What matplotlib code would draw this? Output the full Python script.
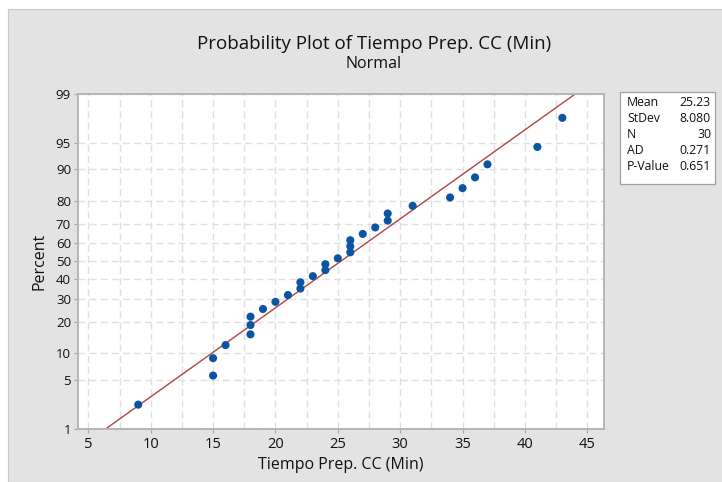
from statistics import NormalDist

import matplotlib
matplotlib.use("Agg")
import matplotlib.pyplot as plt
import numpy as np
from matplotlib.patches import Rectangle
from matplotlib.ticker import FixedLocator, MultipleLocator

# sorted observations of Tiempo Prep. CC (Min), N = 30
tiempo = [9, 15, 15, 16, 18, 18, 18, 19, 20, 21, 22, 22, 23, 24, 24,
          25, 26, 26, 26, 27, 28, 29, 29, 31, 34, 35, 36, 37, 41, 43]
pct_ticks = [1, 5, 10, 20, 30, 40, 50, 60, 70, 80, 90, 95, 99]
x_ticks = [5, 10, 15, 20, 25, 30, 35, 40, 45]
stat_names = ["Mean", "StDev", "N", "AD", "P-Value"]
stat_vals = ["25.23", "8.080", "30", "0.271", "0.651"]

FONT = ["Open Sans", "DejaVu Sans"]
plt.rcParams["font.family"] = FONT
BG = "#E3E3E3"
PT = "#0A55A3"
LN = "#B24444"
TXT = "#111111"

nd = NormalDist()
x = np.array(tiempo, dtype=float)
n = len(x)
ranks = np.arange(1, n + 1)
z = np.array([nd.inv_cdf((i - 0.3) / (n + 0.4)) for i in ranks])  # median ranks
mu, sd = x.mean(), x.std(ddof=1)

fig = plt.figure(figsize=(7.22, 4.82), dpi=100, facecolor="white")
fig.patches.append(Rectangle((8 / 722, 0), 1, 1 - 9 / 482, transform=fig.transFigure,
                             facecolor=BG, edgecolor="#C8C8C8", lw=0.8, zorder=-2))

ax = fig.add_axes([78 / 722, 1 - 428.5 / 482, (604 - 78) / 722, (428.5 - 94) / 482])
ax.set_facecolor("white")

z_lo, z_hi = nd.inv_cdf(0.01), nd.inv_cdf(0.99)
zz = np.linspace(z_lo, z_hi, 50)
ax.plot(mu + sd * zz, zz, color=LN, lw=1.0, zorder=2)
ax.scatter(x, z, s=34, color=PT, edgecolors="none", zorder=3)

ax.set_xlim(4.17, 46.34)
ax.set_ylim(z_lo, z_hi)
ax.xaxis.set_major_locator(FixedLocator(x_ticks))
ax.xaxis.set_minor_locator(MultipleLocator(2.5))
ax.set_yticks([nd.inv_cdf(p / 100) for p in pct_ticks])
ax.set_yticklabels([str(p) for p in pct_ticks])

ax.grid(True, which="major", color="#E0E0E0", ls=(0, (5, 3)), lw=1.0)
ax.grid(True, which="minor", axis="x", color="#E0E0E0", ls=(0, (5, 3)), lw=1.0)
ax.tick_params(which="major", length=3, width=0.8, color="#A8A8A8",
               labelsize=9.5, labelcolor=TXT, pad=2)
ax.tick_params(which="minor", length=0)
ax.tick_params(axis="x", labelsize=10.5, pad=3)
for s in ax.spines.values():
    s.set_color("#B5B5B5")
    s.set_linewidth(1.4)

ax.set_xlabel("Tiempo Prep. CC (Min)", fontsize=11.5, color=TXT, labelpad=4)
ax.set_ylabel("Percent", fontsize=11.5, color=TXT, labelpad=6)

fig.text(374 / 722, 1 - 44 / 482, "Probability Plot of Tiempo Prep. CC (Min)",
         ha="center", va="center", fontsize=13.5, color=TXT)
fig.text(374 / 722, 1 - 64 / 482, "Normal", ha="center", va="center",
         fontsize=11.5, color=TXT)

# statistics box
fig.patches.append(Rectangle((620 / 722, 1 - 184 / 482), 95 / 722, 92 / 482,
                             transform=fig.transFigure, facecolor="white",
                             edgecolor="#A0A0A0", lw=0.9, zorder=1))
for i, (k, v) in enumerate(zip(stat_names, stat_vals)):
    yy = 1 - (102 + i * 16) / 482
    fig.text(627 / 722, yy, k, ha="left", va="center", fontsize=8.8, color=TXT)
    fig.text(711 / 722, yy, v, ha="right", va="center", fontsize=8.8, color=TXT)

fig.savefig("out.png", dpi=100, facecolor=fig.get_facecolor())
